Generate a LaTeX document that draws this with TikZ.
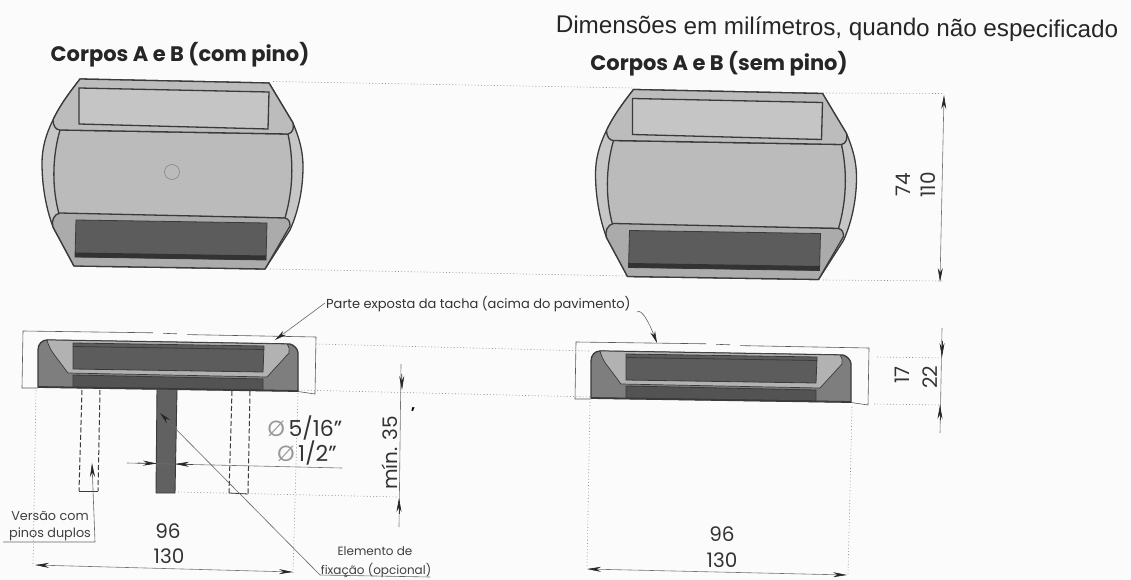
\documentclass[tikz,border=0pt]{standalone}
\usepackage{fontspec}
\setmainfont{Poppins}
\newfontfamily\headfont{Liberation Sans}
\usetikzlibrary{arrows.meta}
\definecolor{paper}{HTML}{FBFBFB}
\definecolor{ink}{HTML}{3A3A3A}
\definecolor{lightbody}{HTML}{C6C6C6}
\definecolor{midbody}{HTML}{BBBBBB}
\definecolor{lowband}{HTML}{ABABAB}
\definecolor{darkwin}{HTML}{5C5C5C}
\definecolor{darkstrip}{HTML}{333333}
\definecolor{endgray}{HTML}{7E7E7E}
\definecolor{chamfer}{HTML}{B2B2B2}
\tikzset{
  outline/.style={draw=ink,line width=1.3pt,line join=round},
  thinbox/.style={draw=black!65,line width=.6pt},
  dotline/.style={draw=black!42,line width=.6pt,dash pattern=on 1pt off 2.2pt},
  hiddenpin/.style={draw=ink,line width=1pt,dash pattern=on 5pt off 2.5pt},
  dimline/.style={draw=black!55,line width=.6pt,{Stealth[length=14pt,width=5pt,black!85]}-{Stealth[length=14pt,width=5pt,black!85]}},
  leader/.style={draw=black!60,line width=.6pt,-{Stealth[length=12pt,width=5pt,black!85]}},
  numlabel/.style={inner sep=0pt,font=\fontsize{20}{20}\selectfont,text=black!80},
  dialabel/.style={inner sep=0pt,font=\fontsize{22}{22}\selectfont,text=black!80},
  smalllabel/.style={inner sep=0pt,font=\fontsize{12}{12}\selectfont,text=black!75},
  title/.style={inner sep=0pt,font=\fontsize{21}{21}\selectfont\bfseries,text=black!85}
}
\newcommand{\topbody}[1]{%
\begin{scope}[shift={#1}]
  % whole outline
  \path[outline,fill=lightbody] (80,79) -- (269,83) -- (293,123)
    .. controls (300,140) and (303,152) .. (303,167)
    .. controls (303,190) and (298,212) .. (290,230)
    -- (265,269) -- (74,266) -- (53,227)
    .. controls (46,208) and (42,186) .. (42,163)
    .. controls (42,148) and (46,134) .. (53,120) .. controls (60,105) and (70,92) .. (80,79) -- cycle;
  % middle zone
  \path[outline,fill=midbody] (60,130) .. controls (52,158) and (52,188) .. (59,214)
    -- (285,218) .. controls (293,190) and (294,162) .. (288,134) -- cycle;
  % top band lobe
  \path[outline,fill=lightbody!95!black] (80,79) -- (269,83) -- (293,123)
    .. controls (294,128) and (293,133) .. (288,134) -- (60,130)
    .. controls (56,130) and (53,126) .. (53,120) .. controls (60,105) and (70,92) .. (80,79) -- cycle;
  \path[draw=ink,line width=1.3pt,fill=midbody!85!white] (79,88) -- (269,92) -- (268,129) -- (79,124) -- cycle;
  % bottom band lobe
  \path[outline,fill=lowband] (60,213) -- (285,218)
    .. controls (289,219) and (290,222) .. (290,226)
    -- (265,269) -- (74,266) -- (53,227)
    .. controls (51,221) and (54,214) .. (60,213) -- cycle;
  \path[fill=darkwin,draw=ink,line width=.8pt] (76,220) -- (267,223) -- (266,260) -- (75,257) -- cycle;
  \path[fill=darkstrip] (75,252.5) -- (266,255.5) -- (266,260) -- (75,257) -- cycle;
\end{scope}}
\newcommand{\sidebody}[1]{%
\begin{scope}[shift={#1}]
  \path[thinbox] (153,332.8) -- (23,331) -- (22,388) -- (38,388);
  \path[thinbox] (298,391.5) -- (315,394) -- (316,337) -- (187,334.6);
  \path[thinbox] (163,333.3) -- (177,333.8);
  \path[outline,fill=endgray] (38,387) -- (38,350) .. controls (38,344) and (42,340) .. (47,340)
    -- (290,344) .. controls (294,345) and (298,349) .. (298,353) -- (298,391) -- cycle;
  \path[fill=chamfer,draw=ink,line width=.7pt] (47,340) .. controls (49,347) and (51,350) .. (53,353)
    -- (68,373) -- (267,377) -- (289,353) .. controls (290,350) and (289,347) .. (287,344) -- cycle;
  \path[fill=darkwin,draw=ink,line width=.8pt] (73,343) -- (264,346) -- (263,372) -- (73,369) -- cycle;
  \path[draw=ink,line width=.8pt] (73,346.5) -- (264,349.5);
  \path[fill=darkwin!90!black,draw=ink,line width=.8pt] (73,375) -- (263,379) -- (263,390) -- (73,387) -- cycle;
  \path[draw=ink,line width=1.8pt] (38,387) -- (298,391);
\end{scope}}
\begin{document}
\begin{tikzpicture}[x=1pt,y=-1pt]
\useasboundingbox (0,0) rectangle (1131,580);
\fill[paper] (0,0) rectangle (1131,580);

% ---- coordinates for free ends
\coordinate (pa) at (325,303);
\coordinate (pat) at (275,340);
\coordinate (pb) at (637,312);
\coordinate (pbt) at (657,343);

% dotted projection lines
\path[dotline] (273,81.5) -- (633,88);
\path[dotline] (270,269) -- (628,276);
\path[dotline] (823,93) -- (943,93.5);
\path[dotline] (823,280) -- (943,281);
\path[dotline] (316,344) -- (590,351);
\path[dotline] (298,390) -- (590,397);
\path[dotline] (877,357) -- (943,358);
\path[dotline] (874,404) -- (941,405);
\path[dotline] (178,492) -- (398,497);
\path[dotline] (36,390) -- (33,566);
\path[dotline] (298,393) -- (293,573);
\path[dotline] (590,402) -- (587,568);
\path[dotline] (852,407) -- (848,574);

% top views
\topbody{(0,0)}
\topbody{(553.5,10.5)}
\draw[draw=black!45,line width=.7pt] (172,172) circle (7.5pt);

% side views
\sidebody{(0,0)}
\sidebody{(553,11)}

% fixing pin and dashed alternative pins
\path[fill=black!62,draw=ink,line width=.9pt] (157,389) -- (177,389.5) -- (175,493) -- (156,493) -- cycle;
\path[hiddenpin] (82,390) -- (79,491);
\path[hiddenpin] (100,390) -- (98,491);
\path[draw=ink,line width=.8pt] (79,491) -- (98,491);
\path[hiddenpin] (232,391) -- (229,493);
\path[hiddenpin] (250,391) -- (248,494);
\path[draw=ink,line width=.8pt] (229,493) -- (248,494);

% dimension lines
\coordinate (d1a) at (35,565);
\coordinate (d1b) at (293,572);
\path[dimline] (d1a) -- (d1b);
\coordinate (d2a) at (587,569);
\coordinate (d2b) at (847,575);
\path[dimline] (d2a) -- (d2b);
\coordinate (d3a) at (944,95);
\coordinate (d3b) at (940,282);
\path[dimline] (d3a) -- (d3b);

% min. 35
\coordinate (m0) at (401,364);
\coordinate (m1) at (402,390);
\coordinate (m2) at (399,498);
\coordinate (m3) at (399,527);
\path[draw=black!55,line width=.6pt] (m0) -- (m3);
\path[draw=black!80,line width=.6pt,-{Stealth[length=14pt,width=5pt,black!85]}] (401.7,374) -- (m1);
\path[draw=black!80,line width=.6pt,-{Stealth[length=14pt,width=5pt,black!85]}] (399,514) -- (m2);

% 22
\coordinate (t0) at (942,328);
\coordinate (t1) at (942,357);
\coordinate (t2) at (940,405);
\coordinate (t3) at (940,433);
\path[draw=black!55,line width=.6pt] (t0) -- (t3);
\path[draw=black!80,line width=.6pt,-{Stealth[length=14pt,width=5pt,black!85]}] (942,341) -- (t1);
\path[draw=black!80,line width=.6pt,-{Stealth[length=14pt,width=5pt,black!85]}] (940,420) -- (t2);

% diameter
\coordinate (f0) at (127,463);
\coordinate (f1) at (157,463.5);
\coordinate (f2) at (175,464);
\coordinate (f3) at (342,468);
\path[draw=black!55,line width=.6pt] (f0) -- (f3);
\path[draw=black!80,line width=.6pt,-{Stealth[length=14pt,width=5pt,black!85]}] (138,463) -- (f1);
\path[draw=black!80,line width=.6pt,-{Stealth[length=14pt,width=5pt,black!85]}] (193,464.4) -- (f2);

% labels
\node[inner sep=0pt,rotate=-0.5,text=black!85,font=\headfont\fontsize{24.2}{25}\selectfont] (head) at (837,29) {Dimensões em milímetros, quando não especificado};
\node[title] (t1l) at (180,55) {Corpos A e B (com pino)};
\node[title] (t2l) at (719,64) {Corpos A e B (sem pino)};
\node[numlabel,rotate=90] (n74) at (903,185) {74};
\node[numlabel,rotate=90] (n110) at (928,185) {110};
\node[numlabel,rotate=90] (n17) at (902,375) {17};
\node[numlabel,rotate=90] (n22) at (930,377) {22};
\node[numlabel] (n96a) at (168,531) {96};
\node[numlabel] (n130a) at (169,556) {130};
\node[numlabel] (n96b) at (722,534) {96};
\node[numlabel] (n130b) at (722,560) {130};
\node[numlabel,rotate=90] (nmin) at (390,453) {mín. 35};
\node[dialabel] (nf1) at (305,428) {\textcolor{black!40}{Ø}\,5/16"};
\node[dialabel] (nf2) at (307,453) {\textcolor{black!40}{Ø}\,1/2"};
\node[inner sep=0pt,anchor=west,font=\fontsize{13}{13}\selectfont,text=black!80] (parte) at (326,304) {Parte exposta da tacha (acima do pavimento)};
\node[smalllabel,font=\fontsize{12.8}{13}\selectfont] (vers) at (50,516) {Versão com};
\node[smalllabel,font=\fontsize{12.8}{13}\selectfont] (pinos) at (50,534) {pinos duplos};
\node[smalllabel] (elem) at (375,551) {Elemento de};
\node[smalllabel] (fix) at (376,570) {fixação (opcional)};
\node[inner sep=0pt,font=\fontsize{14}{14}\selectfont\bfseries] (tick) at (413,413) {'};

% leaders
\path[leader] (pa) -- (pat);
\path[leader] (pb) .. controls (642,308) and (650,325) .. (pbt);
\coordinate (e0) at (430,577);
\coordinate (e1) at (320,575);
\coordinate (e2) at (160,413);
\path[draw=black!60,line width=.6pt,-{Stealth[length=12pt,width=5pt,black!85]}] (e0) -- (e1) -- (e2);
\coordinate (v0) at (3,542);
\coordinate (v1) at (95,542);
\coordinate (v2) at (92,463);
\path[draw=black!60,line width=.6pt,-{Stealth[length=14pt,width=5pt,black!85]}] (v0) -- (v1) -- (v2);
\end{tikzpicture}
\end{document}
